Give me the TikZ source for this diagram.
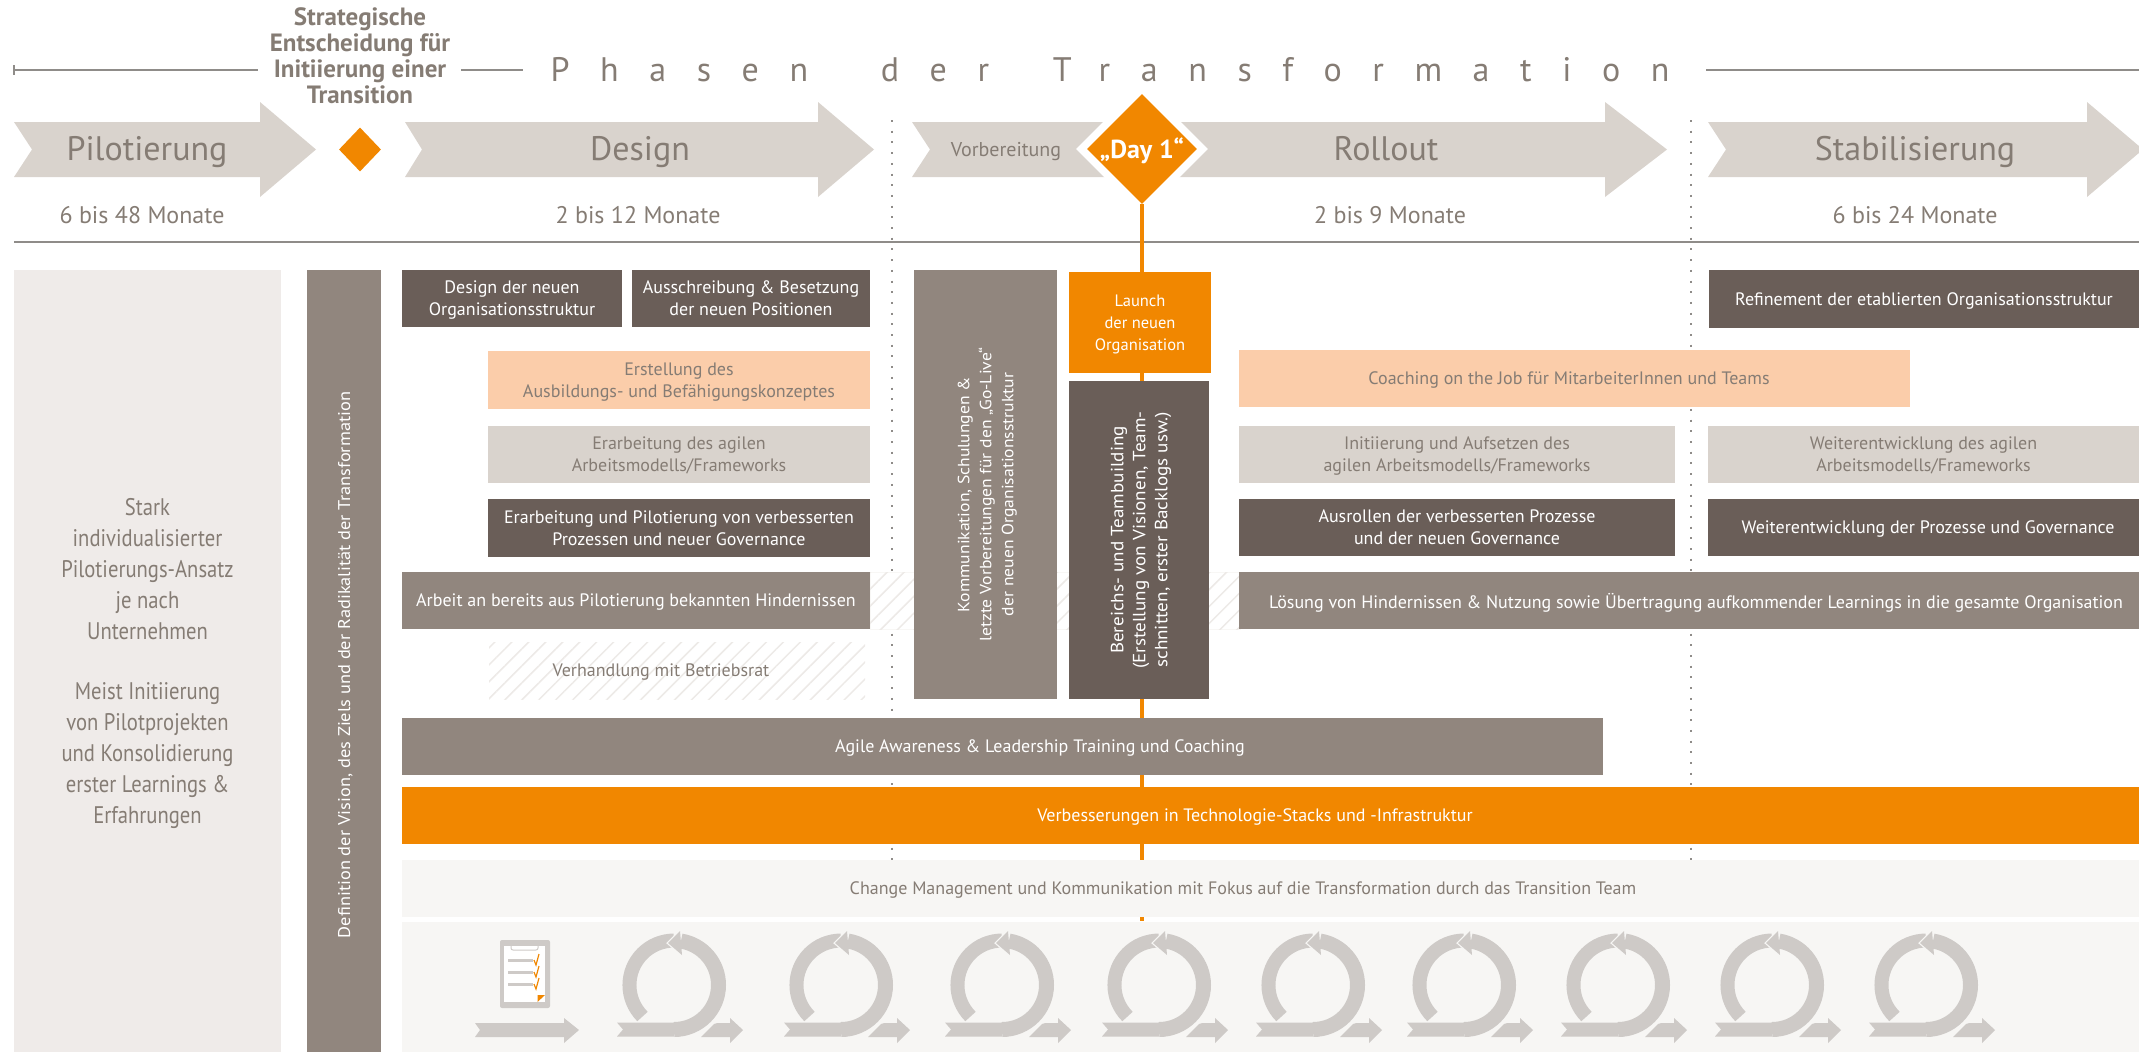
\documentclass[tikz,border=0pt]{standalone}
\usepackage{fontspec}
\setmainfont{PT Sans}
\newfontfamily\narrowfont[FakeStretch=0.86]{PT Sans}
\newfontfamily\widefont[FakeStretch=1.08]{PT Sans}
\newfontfamily\phasefont[LetterSpace=90]{PT Sans}
\usetikzlibrary{patterns.meta,shapes.geometric}

\definecolor{chevrongray}{HTML}{D9D3CD}
\definecolor{labelgray}{HTML}{857C74}
\definecolor{rulegray}{HTML}{8F8C89}
\definecolor{darkbrown}{HTML}{6A5E58}
\definecolor{midbrown}{HTML}{91867E}
\definecolor{peach}{HTML}{FBCDAA}
\definecolor{dayorange}{HTML}{F18700}
\definecolor{panelgray}{HTML}{EFEBE9}
\definecolor{palegray}{HTML}{F7F6F4}
\definecolor{icongray}{HTML}{CECAC7}
\definecolor{hatchgray}{HTML}{EDEAE7}

\tikzset{
  chevron/.style={fill=chevrongray},
  phaselabel/.style={anchor=base, inner sep=0, text=labelgray, font=\fontsize{34}{38}\selectfont},
  months/.style={anchor=base, inner sep=0, text=labelgray, font=\fontsize{24}{28}\selectfont},
  rulerline/.style={draw=rulegray, line width=1.2pt},
  dotline/.style={draw=rulegray, line width=2pt, dash pattern=on 2pt off 8.7pt},
  dayline/.style={draw=dayorange, line width=4pt},
  box/.style={inner sep=0, align=center, text depth=-6pt, font=\fontsize{18}{22}\selectfont},
  darkbox/.style={box, fill=darkbrown, text=white},
  midbox/.style={box, fill=midbrown, text=white},
  peachbox/.style={box, fill=peach, text=labelgray},
  lightbox/.style={box, fill=chevrongray, text=labelgray},
  orangebox/.style={box, fill=dayorange, text=white},
  palebox/.style={box, fill=palegray, text=labelgray},
  upright/.style={rotate=90, text depth=0pt, font=\widefont\fontsize{17}{22}\selectfont},
  hatchbox/.style={box, text=labelgray, fill=white, postaction={pattern={Lines[angle=45,distance=12pt,line width=1.5pt]}, pattern color=hatchgray}},
  loopicon/.pic={
    \draw [icongray, line width=14pt] (-31.5,31.5) arc (135:270:44.5);
    \draw [fill=palegray, draw=palegray, line width=2.5pt, line join=miter] (6,-54) -- (-6,-42) -- (8,-30) -- cycle;
    \fill [icongray] (-57,37.5) -- (0,37.5) -- (0,51.5) -- (-57,51.5) -- (-51,44.5) -- cycle;
    \draw [icongray, line width=15pt] (0,44.5) arc (90:-81:44.5);
    \fill [icongray] (6,-54) -- (-6,-42) -- (8,-30) -- cycle;
    \fill [icongray] (27,52) -- (40,39) .. controls (42,38) and (44,38) .. (47,38) -- (56,38) -- (56,33) -- (69,45) -- (56,58) -- (56,52) -- cycle;
  }
}

\begin{document}
\begin{tikzpicture}[x=1pt, y=-1pt]
  \useasboundingbox (0,0) rectangle (2139,1052);

  \coordinate (dottopa) at (892,120);
  \coordinate (dotenda) at (892,921);
  \coordinate (dottopb) at (1691,120);
  \coordinate (dotendb) at (1691,921);
  \coordinate (dayend) at (1142,921);
  \coordinate (rulestart) at (14,242);
  \coordinate (ruleend) at (2139,242);
  \path [dotline] (dottopa) -- (dotenda);
  \path [dotline] (dottopb) -- (dotendb);
  \path [draw=rulegray, line width=2pt] (rulestart) -- (ruleend);

  \coordinate (topa) at (14,70);
  \coordinate (topb) at (258,70);
  \coordinate (topc) at (461,70);
  \coordinate (topd) at (523,70);
  \coordinate (tope) at (1706,70);
  \coordinate (topf) at (2139,70);
  \coordinate (ticka) at (14,65);
  \coordinate (tickb) at (14,75);
  \path [rulerline] (topa) -- (topb);
  \path [rulerline] (topc) -- (topd);
  \path [rulerline] (tope) -- (topf);
  \path [rulerline] (ticka) -- (tickb);

  \node (entscheidung) [inner sep=0, align=center, text=labelgray, font=\bfseries\fontsize{25}{26}\selectfont] at (360,56) {Strategische\\Entscheidung für\\Initiierung einer\\Transition};
  \node (phasen) [inner sep=0, text=labelgray, font=\phasefont\fontsize{34}{38}\selectfont] at (1110,70) {Phasen\hspace{33pt} der\hspace{24pt} Transformation};

  \fill [chevron] (14,122) -- (260,122) -- (260,102) -- (316,149.5) -- (260,197) -- (260,177) -- (14,177) -- (32,149.5) -- cycle;
  \fill [chevron] (405,122) -- (818,122) -- (818,102) -- (874,149.5) -- (818,197) -- (818,177) -- (405,177) -- (422,149.5) -- cycle;
  \fill [chevron] (912,122) -- (1605,122) -- (1605,102) -- (1667,149.5) -- (1605,197) -- (1605,177) -- (912,177) -- (930,149.5) -- cycle;
  \fill [chevron] (1708,122) -- (2087,122) -- (2087,102) -- (2143,149.5) -- (2087,197) -- (2087,177) -- (1708,177) -- (1726,149.5) -- cycle;

  \node (entscheid) [diamond, aspect=1, fill=dayorange, minimum width=42pt, minimum height=44pt, inner sep=0] at (360,149.5) {};
  \node (pilot) [phaselabel] at (147,160) {Pilotierung};
  \node (design) [phaselabel] at (640,160) {Design};
  \node (vorb) [phaselabel, font=\fontsize{20}{24}\selectfont] at (1006,156) {Vorbereitung};
  \node (rollout) [phaselabel] at (1386,160) {Rollout};
  \node (stabil) [phaselabel] at (1915,160) {Stabilisierung};
  \node (dayframe) [diamond, aspect=1, fill=white, minimum width=132pt, minimum height=132pt, inner sep=0] at (1142,149) {};
  \node (day1) [diamond, aspect=1, fill=dayorange, minimum width=110pt, minimum height=110pt, inner sep=0] at (1142,149) {};
  \node (day1text) [anchor=base, inner sep=0, text=white, font=\bfseries\fontsize{26}{30}\selectfont] at (1142,158) {„Day 1“};
  \path [-] [dayline]
  (day1.south) edge (dayend);

  \node (monatea) [months] at (142,223) {6 bis 48 Monate};
  \node (monateb) [months] at (638,223) {2 bis 12 Monate};
  \node (monatec) [months] at (1390,223) {2 bis 9 Monate};
  \node (monated) [months] at (1915,223) {6 bis 24 Monate};

  \node (pilotpanel) [box, text depth=0pt, fill=panelgray, text=labelgray, minimum width=267pt, minimum height=782pt, font=\narrowfont\fontsize{24}{31}\selectfont] at (147.5,661) {Stark\\individualisierter\\Pilotierungs-Ansatz\\je nach\\Unternehmen\\[29pt]Meist Initiierung\\von Pilotprojekten\\und Konsolidierung\\erster Learnings \&\\Erfahrungen};
  \node (vision) [midbox, upright, minimum width=782pt, minimum height=74pt] at (344,661) {};
  \node (visiontext) [box, upright, text=white] at (344,665) {Definition der Vision, des Ziels und der Radikalität der Transformation};

  \node (hindband) [hatchbox, draw=hatchgray!40, minimum width=370pt, minimum height=57pt] at (1055,600.5) {};
  \node (betriebsrat) [hatchbox, minimum width=376pt, minimum height=57pt] at (677,670.5) {};
  \node (betriebstext) [box, text=labelgray] at (661,670.5) {Verhandlung mit Betriebsrat};

  \node (neuorg) [darkbox, minimum width=220pt, minimum height=57pt] at (512,298.5) {Design der neuen\\Organisationsstruktur};
  \node (besetzung) [darkbox, minimum width=238pt, minimum height=57pt] at (751,298.5) {Ausschreibung \& Besetzung\\der neuen Positionen};
  \node (ausbildung) [peachbox, minimum width=382pt, minimum height=58pt] at (679,380) {Erstellung des\\Ausbildungs- und Befähigungskonzeptes};
  \node (agildesign) [lightbox, minimum width=382pt, minimum height=57pt] at (679,454.5) {Erarbeitung des agilen\\Arbeitsmodells/Frameworks};
  \node (prozesse) [darkbox, minimum width=382pt, minimum height=58pt] at (679,528) {Erarbeitung und Pilotierung von verbesserten\\Prozessen und neuer Governance};
  \node (hindernisse) [midbox, minimum width=468pt, minimum height=57pt] at (636,600.5) {Arbeit an bereits aus Pilotierung bekannten Hindernissen};

  \node (kommunikation) [midbox, minimum width=143pt, minimum height=429pt] at (985.5,484.5) {};
  \node (kommtext) [box, upright, text=white, font=\widefont\fontsize{16.3}{22}\selectfont] at (985.5,494.5) {Kommunikation, Schulungen \&\\letzte Vorbereitungen für den „Go-Live“\\der neuen Organisationsstruktur};
  \node (launch) [orangebox, minimum width=142pt, minimum height=101pt, font=\fontsize{16.5}{22}\selectfont] at (1140,322.5) {Launch\\der neuen\\Organisation};
  \node (teambuilding) [darkbox, upright, minimum width=318pt, minimum height=140pt, font=\widefont\fontsize{17.7}{22}\selectfont] at (1139,540) {Bereichs- und Teambuilding\\(Erstellung von Visionen, Team-\\schnitten, erster Backlogs usw.)};

  \node (refinement) [darkbox, minimum width=430pt, minimum height=58pt] at (1924,299) {Refinement der etablierten Organisationsstruktur};
  \node (coaching) [peachbox, minimum width=671pt, minimum height=57pt] at (1574.5,378.5) {};
  \node (coachtext) [box, text=labelgray] at (1569,378.5) {Coaching on the Job für MitarbeiterInnen und Teams};
  \node (agilroll) [lightbox, minimum width=436pt, minimum height=57pt] at (1457,454.5) {Initiierung und Aufsetzen des\\agilen Arbeitsmodells/Frameworks};
  \node (agilstab) [lightbox, minimum width=431pt, minimum height=57pt] at (1923.5,454.5) {Weiterentwicklung des agilen\\Arbeitsmodells/Frameworks};
  \node (ausrollen) [darkbox, minimum width=436pt, minimum height=57pt] at (1457,527.5) {Ausrollen der verbesserten Prozesse\\und der neuen Governance};
  \node (govstab) [darkbox, minimum width=431pt, minimum height=57pt] at (1923.5,527.5) {};
  \node (govtext) [box, text=white] at (1928,527.5) {Weiterentwicklung der Prozesse und Governance};
  \node (loesung) [midbox, minimum width=900pt, minimum height=57pt] at (1689,600.5) {};
  \node (loesungtext) [box, text=white] at (1696,600.5) {Lösung von Hindernissen \& Nutzung sowie Übertragung aufkommender Learnings in die gesamte Organisation};

  \node (awareness) [midbox, minimum width=1201pt, minimum height=57pt] at (1002.5,746.5) {};
  \node (awaretext) [box, text=white] at (1040,746.5) {Agile Awareness \& Leadership Training und Coaching};
  \node (technologie) [orangebox, minimum width=1737pt, minimum height=57pt] at (1270.5,815.5) {};
  \node (techtext) [box, text=white] at (1255,815.5) {Verbesserungen in Technologie-Stacks und -Infrastruktur};
  \node (change) [palebox, minimum width=1737pt, minimum height=57pt] at (1270.5,888.5) {};
  \node (changetext) [box, text=labelgray] at (1243,888.5) {Change Management und Kommunikation mit Fokus auf die Transformation durch das Transition Team};
  \node (iconpanel) [palebox, minimum width=1737pt, minimum height=130pt] at (1270.5,987) {};

  \fill [icongray, rounded corners=2pt] (500,940) rectangle (550,1008);
  \fill [white] (504,946) rectangle (545,1002);
  \draw [icongray, line width=1pt, rounded corners=2pt] (511,946) -- (511,950) -- (538,950) -- (538,946);
  \draw [icongray, line width=3pt] (508,960) -- (533,960);
  \draw [icongray, line width=3pt] (508,972) -- (533,972);
  \draw [icongray, line width=3pt] (508,984) -- (533,984);
  \draw [dayorange, line width=1.2pt] (534,960) -- (536,965) -- (539,954);
  \draw [dayorange, line width=1.2pt] (534,972) -- (536,977) -- (539,966);
  \draw [dayorange, line width=1.2pt] (534,984) -- (536,989) -- (539,978);
  \fill [dayorange] (537.5,995) -- (545,995) -- (537.5,1002) -- cycle;
  \fill [icongray] (475,1023) -- (564,1023) -- (564,1018) -- (579,1030) -- (564,1043) -- (564,1037) -- (475,1037) -- (480,1030) -- cycle;

  \pic (loopa) at (674,985) {loopicon};
  \pic (loopb) at (841,985) {loopicon};
  \pic (loopc) at (1002,985) {loopicon};
  \pic (loopd) at (1159,985) {loopicon};
  \pic (loope) at (1313,985) {loopicon};
  \pic (loopf) at (1464,985) {loopicon};
  \pic (loopg) at (1618,985) {loopicon};
  \pic (looph) at (1772,985) {loopicon};
  \pic (loopi) at (1926,985) {loopicon};
\end{tikzpicture}
\end{document}
